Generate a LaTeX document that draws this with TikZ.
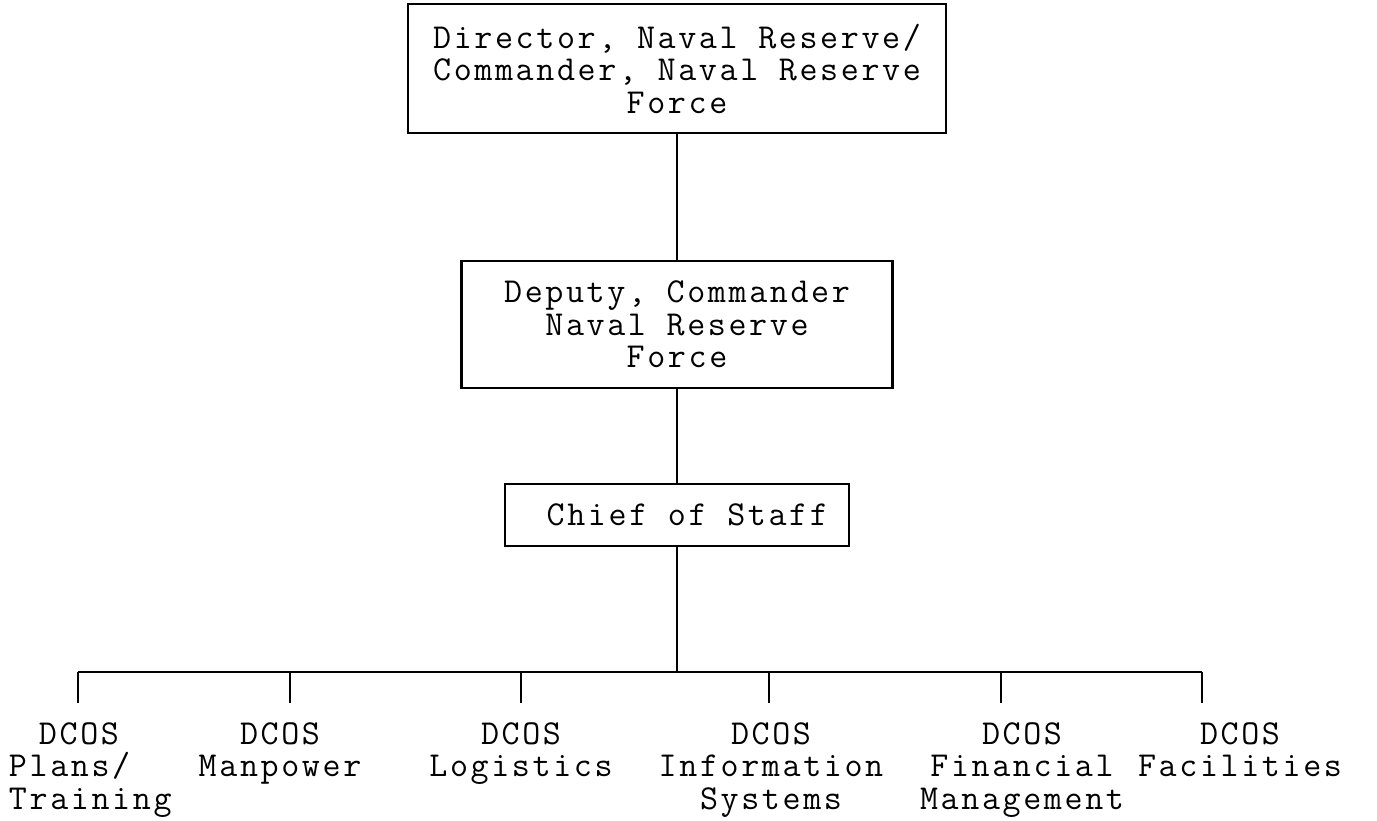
\documentclass[tikz,border=0pt]{standalone}
\usepackage{fontspec}
\usepackage{tikz}
\newfontfamily\orgfont[LetterSpace=7.5]{Latin Modern Mono}
\tikzset{
    every node/.style={font=\orgfont\fontsize{35}{32.5}\selectfont, align=center}
}
\tikzset{
    box/.style={draw, line width=2.5pt, inner sep=0pt}
}
\tikzset{
    every edge/.append style={line width=2pt}
}

\begin{document}
\begin{tikzpicture}[x=1pt, y=-1pt, line width=2pt]
	\useasboundingbox (0,0) rectangle (1377,820);
	\node (dir) [box, minimum width=538pt, minimum height=129pt] at (677, 68.5) {Director, Naval Reserve/\\Commander, Naval Reserve\\Force};
	\node (dep) [box, minimum width=431pt, minimum height=127pt] at (677, 324.5) {Deputy, Commander\\Naval Reserve\\Force};
	\node (cos) [box, minimum width=344pt, minimum height=62pt] at (677, 515) {\ Chief of Staff};
	
	\coordinate (bar) at (677, 672);
	\coordinate (b1) at (78, 672); \coordinate (d1) at (78, 703);
	\coordinate (b2) at (290, 672); \coordinate (d2) at (290, 703);
	\coordinate (b3) at (521, 672); \coordinate (d3) at (521, 703);
	\coordinate (b4) at (769, 672); \coordinate (d4) at (769, 703);
	\coordinate (b5) at (1001, 672); \coordinate (d5) at (1001, 703);
	\coordinate (b6) at (1202, 672); \coordinate (d6) at (1202, 703);
	
	\node (l1) [anchor=north west, align=left, inner xsep=0pt] at (8, 718) {\hspace*{30pt}DCOS\\Plans/\\Training};
	\node (l2) [anchor=north] at (280, 718) {DCOS\\Manpower};
	\node (l3) [anchor=north] at (521, 718) {DCOS\\Logistics};
	\node (l4) [anchor=north] at (771, 718) {DCOS\\Information\\Systems};
	\node (l5) [anchor=north] at (1022, 718) {DCOS\\Financial\\Management};
	\node (l6) [anchor=north] at (1240, 718) {DCOS\\Facilities};
	
	\draw (dir) edge (dep); \draw (dep) edge (cos);
	\draw (cos) edge (bar); \draw (b1) edge (b6);
	
	\draw (b1) edge (d1); \draw (b2) edge (d2); \draw (b3) edge (d3);
	\draw (b4) edge (d4); \draw (b5) edge (d5); \draw (b6) edge (d6);
\end{tikzpicture}
\end{document}
